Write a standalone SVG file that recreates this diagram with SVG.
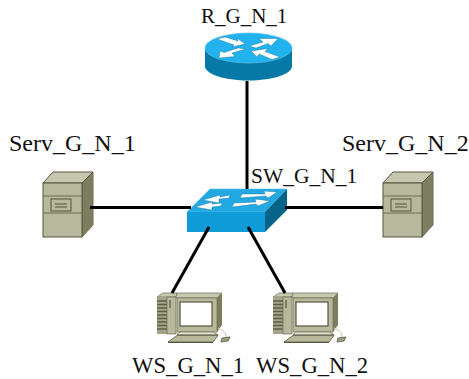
<svg xmlns="http://www.w3.org/2000/svg" width="469" height="379" viewBox="0 0 469 379">
<style>
text{font-family:"Liberation Serif","Times New Roman",serif;fill:#111}
.c{stroke:#000;stroke-width:3;fill:none}
.a{fill:#fff;stroke:#0a6a90;stroke-width:.4}
</style>
<defs>
<g id="server">
<path d="M39 11L50 0V53L39 65Z" fill="#7d7e60" stroke="#6a6b50"/>
<path d="M0 11L10 0H50L39 11Z" fill="#c6c7ae" stroke="#55563f"/>
<rect y="11" width="39" height="54" fill="#b7b89c" stroke="#55563f"/>
<path d="M0 24H39M0 41H39" stroke="#6d6e56"/>
<rect x="8" y="27" width="20" height="12" fill="#b7b89c" stroke="#55563f"/>
<path d="M12 32H24M12 35H24" stroke="#55563f"/>
</g>
<g id="ws">
<path d="M157 297L163 293H177L176 297Z" fill="#c8c9b1" stroke="#6b6c54" stroke-width=".7"/>
<rect x="157" y="297" width="10" height="37" fill="#a3a488"/>
<path d="M157 301H167M157 304.500H167M157 308H167M157 311.500H167M157 315H167M157 318.500H167M157 322H167M157 325.500H167M157 329H167" stroke="#5d5e47" stroke-width="1.300"/>
<rect x="167" y="297" width="9" height="37" fill="#b7b89c" stroke="#6b6c54" stroke-width=".7"/>
<path d="M170 300V308" stroke="#55563f" stroke-width="1.200"/>
<path d="M176 297L177 293H222L217 298H176Z" fill="#c8c9b1" stroke="#6b6c54" stroke-width=".7"/>
<path d="M217 298L222 293V325L217 332Z" fill="#7c7d5f"/>
<rect x="177" y="298" width="40" height="34" fill="#b7b89c" stroke="#6b6c54" stroke-width=".7"/>
<rect x="180" y="302" width="32" height="24" fill="#fff" stroke="#55563f" stroke-width="1.200"/>
<path d="M180 332H213L218 334.500H177Z" fill="#e3e4d4" stroke="#6b6c54" stroke-width=".7"/>
<path d="M177 335.500H218L213 342H168Z" fill="#b7b89c" stroke="#55563f" stroke-width=".8"/>
<path d="M168 342.500H213" stroke="#55563f"/>
<path d="M218 328C224 330 226 333 226 337" stroke="#cfd0bc" stroke-width="1.300" fill="none"/>
<path d="M222 338L230 337L228 341L221 342Z" fill="#9fa084" stroke="#55563f" stroke-width=".8"/>
</g>
</defs>
<g id="R_G_N_1">
<path d="M205 48V66C205 74 224 80.500 248.500 80.500S292 74 292 66V48Z" fill="#0779a6"/>
<ellipse cx="248.500" cy="48" rx="43.500" ry="15" fill="#22b2ee" stroke="#5cc4ec" stroke-width=".7"/>
<path class="a" d="M217 39L225 37L238 41L237 38L245 44L232 47L234 45ZM249 46L263 42L259 38.500L278 38.500L271 46L268 43.500L256 48ZM246 49L232 53L235 56.500L219 58L220 51L224 52.500L238 48ZM251 51L268 48.500L265 51.500L280 57L272 59.500L259 54L257 57Z"/>
<text x="201" y="22.500" font-size="21">R_G_N_1</text>
</g>
<g id="SW_G_N_1">
<path d="M187 212L210 189H287L265 212Z" fill="#22a8e2" stroke="#5cc4ec" stroke-width=".6"/>
<rect x="187" y="212" width="78" height="20" fill="#0f9bd8"/>
<path d="M265 212L287 189V210L265 232Z" fill="#086389"/>
<path class="a" d="M203 200L220 195L220 197L230 195L229 198L219 199L219 203ZM242 194L265 194L264 191L277 192L268 198L266 196L240 198ZM195 207L212 202L212 204L222 203L221 206L212 207L212 210ZM234 203L256 202L255 199L270 201L258 206L256 204L232 207Z"/>
<text x="251" y="183" font-size="21.500">SW_G_N_1</text>
</g>
<g id="Serv_G_N_1">
<use href="#server" x="43" y="172"/>
<text x="9" y="151" font-size="24">Serv_G_N_1</text>
</g>
<g id="Serv_G_N_2">
<use href="#server" x="383" y="172"/>
<text x="342" y="151" font-size="24">Serv_G_N_2</text>
</g>
<g id="WS_G_N_1">
<use href="#ws"/>
<text x="132" y="373" font-size="22.700">WS_G_N_1</text>
</g>
<g id="WS_G_N_2">
<use href="#ws" x="116"/>
<text x="256" y="373" font-size="22.700">WS_G_N_2</text>
</g>
<g id="connectors">
<path class="c" d="M247 81V189"/>
<path class="c" d="M90 207.500H191"/>
<path class="c" d="M285 207.500H383"/>
<path class="c" d="M209 227L172 293"/>
<path class="c" d="M248 227L285 293"/>
</g>
</svg>
